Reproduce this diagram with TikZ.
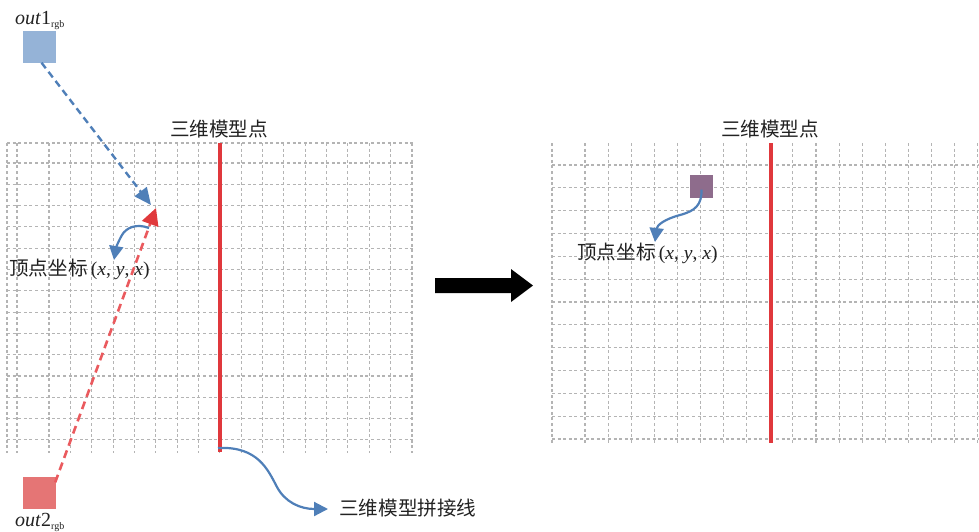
\documentclass[tikz,border=0pt]{standalone}
\usepackage{fontspec}
\setmainfont{Liberation Serif}
\newfontfamily\cjk{Noto Sans CJK SC}[Scale=1.0]
\usetikzlibrary{arrows.meta}
\definecolor{gridgray}{HTML}{B4B4B4}
\definecolor{sqblue}{HTML}{95B3D7}
\definecolor{sqred}{HTML}{E57575}
\definecolor{sqpurple}{HTML}{8E6C8C}
\definecolor{arblue}{HTML}{4F7FB8}
\definecolor{arred}{HTML}{E0393C}
\definecolor{dashred}{HTML}{EA5A5E}
\definecolor{seam}{HTML}{E0383C}
\definecolor{txt}{HTML}{222222}
\newcommand{\xyx}{(\textit{x}, \textit{y}, \textit{x})}
\tikzset{
  gridline/.style={draw=gridgray, line width=1.1pt, dash pattern=on 3pt off 2.6pt},
  seamline/.style={draw=seam, line width=3.5pt},
  sq/.style={rectangle, minimum width=33pt, minimum height=32pt, inner sep=0pt},
  lab/.style={inner sep=0pt, text=txt, font=\fontsize{19.6}{22}\selectfont},
  outlab/.style={inner sep=0pt, text=txt, font=\fontsize{20}{22}\selectfont},
  bluecurve/.style={draw=arblue, line width=2.2pt, -{Triangle[length=14pt,width=14pt]}},
}
\begin{document}
\begin{tikzpicture}[x=1pt,y=-1pt]
\useasboundingbox (0,0) rectangle (979,531);
% ---------- left grid ----------
\draw[gridline] (7,143) -- (413,143);
\foreach \j in {0,...,13} {\draw[gridline] (7,163+21.3*\j) -- (413,163+21.3*\j);}
\foreach \x in {7,17} {\draw[gridline] (\x,143) -- (\x,453);}
\foreach \i in {0,...,17} {\draw[gridline] (49+21.35*\i,143) -- (49+21.35*\i,453);}
% ---------- right grid ----------
\foreach \j in {0,...,12} {\draw[gridline] (552,165+22.83*\j) -- (979,165+22.83*\j);}
\draw[gridline] (552,143) -- (552,445);
\foreach \i in {0,...,17} {\draw[gridline] (585+23.1*\i,143) -- (585+23.1*\i,445);}
% ---------- seam lines ----------
\coordinate (lt) at (220,143);
\coordinate (lb) at (220,452);
\coordinate (rt) at (771,143);
\coordinate (rb) at (771,443);
\draw[seamline] (lt) -- (lb);
\draw[seamline] (rt) -- (rb);
\node[lab, anchor=south] (ltitle) at (219,138) {\cjk 三维模型点};
\node[lab, anchor=south] (rtitle) at (770,138) {\cjk 三维模型点};
% ---------- squares ----------
\node[sq, fill=sqblue] (o1) at (39.5,46.5) {};
\node[sq, fill=sqred] (o2) at (39.5,492.5) {};
\node[sq, fill=sqpurple, minimum width=23pt, minimum height=23pt] (o3) at (701.5,186.5) {};
\node[outlab, anchor=base west] (o1lab) at (15,24) {\textit{out}1\raisebox{-3pt}{\fontsize{10}{10}\selectfont rgb}};
\node[outlab, anchor=base west] (o2lab) at (15,526) {\textit{out}2\raisebox{-3pt}{\fontsize{10}{10}\selectfont rgb}};
% ---------- vertex ----------
\coordinate (v1) at (151,205);
\coordinate (v2) at (156,208);
\draw[arblue, line width=2.4pt, dash pattern=on 7pt off 4.5pt, -{Triangle[length=17pt,width=15pt]}] (o1.south) ++(2,0) -- (v1);
\draw[dashred, line width=2.6pt, dash pattern=on 8pt off 5pt, -{Triangle[length=17pt,width=17pt,fill=arred,color=arred]}] (o2.north east) ++(-1,6) -- (v2);
% ---------- labels and curved arrows ----------
\node[lab, anchor=base west] (vlab1) at (9,275) {\cjk 顶点坐标\,\rmfamily\xyx};
\coordinate (c1s) at (149,228);
\coordinate (c1e) at (114,260);
\draw[bluecurve] (c1s) .. controls (136,223) and (126,228) .. (122,235) .. controls (118,242) and (116,248) .. (c1e);
\node[lab, anchor=base west] (vlab2) at (577,259) {\cjk 顶点坐标\,\rmfamily\xyx};
\coordinate (c2e) at (655,242);
\draw[bluecurve] (o3.center) ++(0,3) .. controls (702,205) and (695,211) .. (680,215) .. controls (665,219) and (657,225) .. (c2e);
% ---------- seam label ----------
\node[lab, anchor=west] (seamlab) at (339,508) {\cjk 三维模型拼接线};
\coordinate (seamtip) at (328,509);
\draw[bluecurve] (218,448) .. controls (258,446) and (268,470) .. (277,487) .. controls (285,502) and (300,509) .. (seamtip);
% ---------- big arrow ----------
\fill[black] (435,278) -- (511,278) -- (511,269) -- (533,285.5) -- (511,302) -- (511,293) -- (435,293) -- cycle;
\end{tikzpicture}
\end{document}
